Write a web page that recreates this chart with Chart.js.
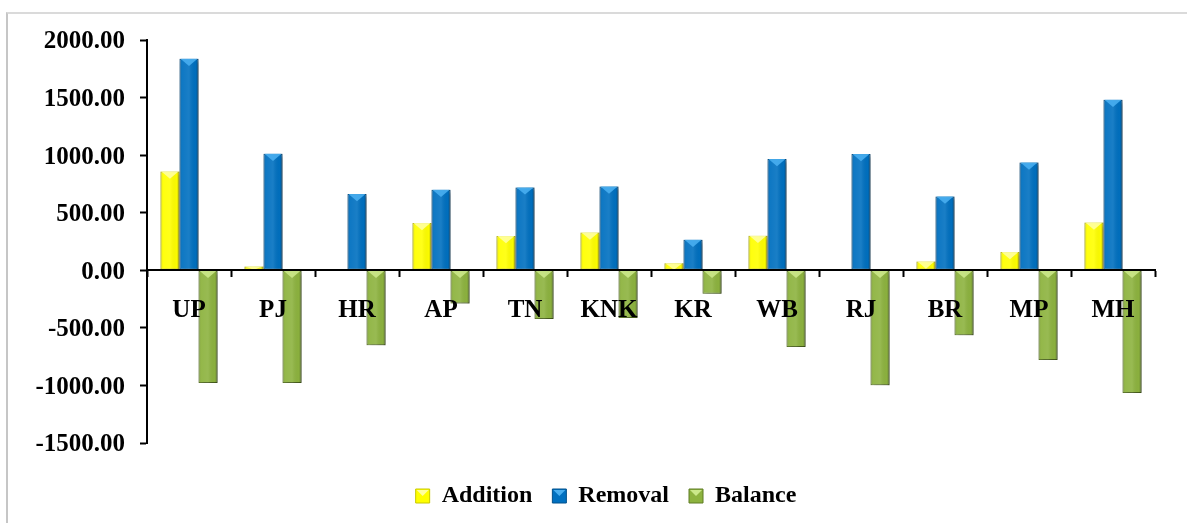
<!DOCTYPE html>
<html>
<head>
<meta charset="utf-8">
<title>Addition, Removal and Balance by State</title>
<script src="https://cdn.jsdelivr.net/npm/chart.js@4.4.1/dist/chart.umd.min.js"></script>
<style>
  html, body { margin: 0; padding: 0; background: #ffffff; }
  #wrap { position: relative; width: 1187px; height: 523px; overflow: hidden; }
  #frame { position: absolute; left: 6px; top: 12px; right: -10px; bottom: -10px;
           border-top: 2px solid #dadada; border-left: 2px solid #c6c6c6; }
  canvas { position: absolute; left: 0; top: 0; }
</style>
</head>
<body>
<div id="wrap">
  <div id="frame"></div>
  <canvas id="chart" width="1187" height="523"></canvas>
</div>
<script>
// States on the category axis
const categories = ['UP', 'PJ', 'HR', 'AP', 'TN', 'KNK', 'KR', 'WB', 'RJ', 'BR', 'MP', 'MH'];

// Series values
const addition = [858, 33, 10, 410, 297, 328, 62, 300, 10, 77, 158, 415];
const removal  = [1837, 1012, 662, 699, 720, 728, 265, 966, 1009, 641, 937, 1481];
const balance  = [-979, -979, -652, -289, -423, -415, -203, -666, -999, -564, -779, -1066];

// Value axis range and step
const yMin = -1500;
const yMax = 2000;
const yStep = 500;

const seriesNames = ['Addition', 'Removal', 'Balance'];

const fill   = ['#ffff00', '#0070c0', '#8db33f'];
const edge   = ['#c8c800', '#00518c', '#5f7d25'];
const facet  = ['#ffffa0', '#48aef0', '#cbe88a'];

const serif = "'Liberation Serif', 'Times New Roman', serif";
const axisFont = { family: serif, size: 25, weight: 'bold' };
const legendFont = { family: serif, size: 24, weight: 'bold' };

// Legend sits centred under the plot area rather than the whole canvas
const legendShift = {
  id: 'legendShift',
  afterLayout(chart) {
    const lg = chart.legend;
    if (!lg) return;
    const dx = ((chart.chartArea.left + chart.chartArea.right) - (lg.left + lg.right)) / 2 - 45;
    lg.left += dx;
    lg.right += dx;
  }
};

// Bevelled look: drop shadow under the bars, darker side edges and a light facet on the top end
const bevel = {
  id: 'bevel',
  beforeDatasetsDraw(chart) {
    const ctx = chart.ctx;
    ctx.save();
    ctx.shadowColor = 'rgba(0,0,0,0.35)';
    ctx.shadowBlur = 4;
    ctx.shadowOffsetX = 2;
    ctx.shadowOffsetY = 2;
  },
  afterDatasetsDraw(chart) {
    const ctx = chart.ctx;
    ctx.restore();
    chart.data.datasets.forEach((ds, di) => {
      const meta = chart.getDatasetMeta(di);
      meta.data.forEach(bar => {
        const p = bar.getProps(['x', 'y', 'base', 'width'], true);
        const left = p.x - p.width / 2;
        const top = Math.min(p.y, p.base);
        const h = Math.abs(p.base - p.y);
        if (h < 0.5) return;
        const g = ctx.createLinearGradient(left, 0, left + p.width, 0);
        g.addColorStop(0, 'rgba(0,0,0,0.14)');
        g.addColorStop(0.15, 'rgba(255,255,255,0.06)');
        g.addColorStop(0.5, 'rgba(255,255,255,0.10)');
        g.addColorStop(0.85, 'rgba(0,0,0,0.02)');
        g.addColorStop(1, 'rgba(0,0,0,0.25)');
        ctx.save();
        ctx.fillStyle = g;
        ctx.fillRect(left, top, p.width, h);
        const th = Math.min(p.width * 0.38, h);
        ctx.beginPath();
        ctx.moveTo(left + 1, top);
        ctx.lineTo(left + p.width - 1, top);
        ctx.lineTo(p.x, top + th);
        ctx.closePath();
        ctx.fillStyle = facet[di];
        ctx.globalAlpha = 0.9;
        ctx.fill();
        ctx.restore();
      });
    });
    // matching facet on the legend swatches
    const lg = chart.legend;
    if (lg && lg.legendHitBoxes) {
      const box = lg.options.labels.boxWidth;
      lg.legendHitBoxes.forEach((hb, i) => {
        const bx = hb.left;
        const by = hb.top + (hb.height - box) / 2;
        ctx.save();
        ctx.beginPath();
        ctx.moveTo(bx + 1, by + 1);
        ctx.lineTo(bx + box - 1, by + 1);
        ctx.lineTo(bx + box / 2, by + box * 0.5);
        ctx.closePath();
        ctx.fillStyle = facet[i];
        ctx.fill();
        ctx.restore();
      });
    }
  }
};

const datasets = [addition, removal, balance].map((values, i) => ({
  label: seriesNames[i],
  data: values,
  backgroundColor: fill[i],
  borderColor: edge[i],
  borderWidth: 1,
  borderSkipped: false,
  categoryPercentage: 0.68,
  barPercentage: 1.0
}));

new Chart(document.getElementById('chart'), {
  type: 'bar',
  data: { labels: categories, datasets },
  plugins: [legendShift, bevel],
  options: {
    responsive: false,
    animation: false,
    events: [],
    layout: { padding: { top: 40, right: 32, bottom: 5, left: 0 } },
    plugins: {
      tooltip: { enabled: false },
      legend: {
        position: 'bottom',
        title: { display: true, text: ' ', font: { size: 10, lineHeight: 1 }, padding: { top: 11, bottom: 0 } },
        labels: {
          color: '#000000',
          font: legendFont,
          boxWidth: 14,
          boxHeight: 14,
          padding: 20
        }
      }
    },
    scales: {
      x: {
        position: { y: 0 },
        offset: true,
        grid: {
          offset: true,
          drawOnChartArea: false,
          drawTicks: true,
          tickLength: 6,
          tickWidth: 2,
          tickColor: '#000000'
        },
        border: { display: true, color: '#000000', width: 2, z: 1 },
        ticks: { color: '#000000', font: axisFont, padding: 19, maxRotation: 0, autoSkip: false, z: 1 }
      },
      y: {
        min: yMin,
        max: yMax,
        afterFit(scale) { scale.width = 147; },
        grid: {
          drawOnChartArea: false,
          drawTicks: true,
          tickLength: 7,
          tickWidth: 2,
          tickColor: '#000000'
        },
        border: { display: true, color: '#000000', width: 2 },
        ticks: {
          stepSize: yStep,
          color: '#000000',
          font: axisFont,
          padding: 15,
          labelOffset: 2,
          callback: v => Number(v).toFixed(2)
        }
      }
    }
  }
});
</script>
</body>
</html>
